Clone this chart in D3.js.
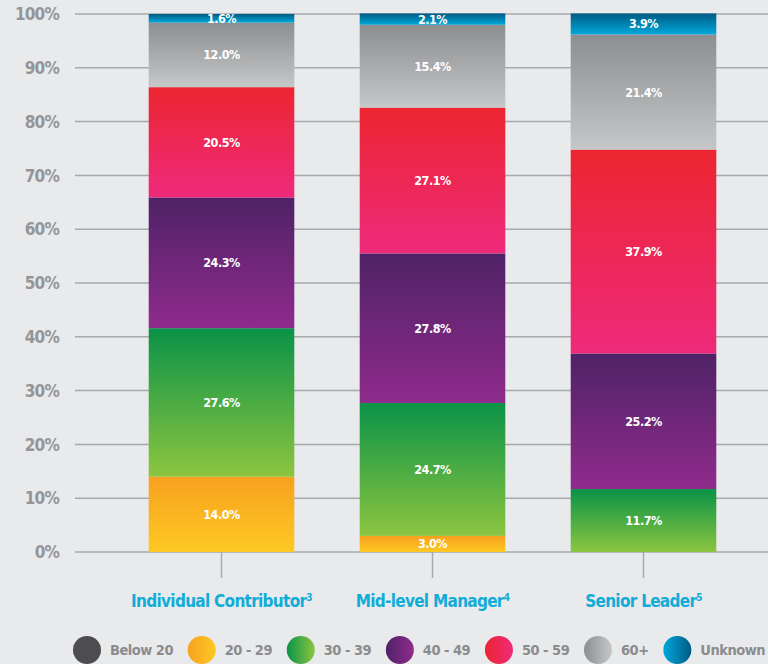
<!DOCTYPE html>
<html>
<head>
<meta charset="utf-8">
<script src="https://cdn.jsdelivr.net/npm/d3@7"></script>
<style>
  html, body { margin: 0; padding: 0; background: #e9eaec; }
  svg { display: block; }
  text { font-family: "DejaVu Sans Condensed", "DejaVu Sans", sans-serif; font-stretch: condensed; font-weight: bold; }
</style>
</head>
<body>
<div id="chart"></div>
<script>
var categories = ["Individual Contributor", "Mid-level Manager", "Senior Leader"];
var footnotes = ["3", "4", "5"];
var series = ["Below 20", "20 - 29", "30 - 39", "40 - 49", "50 - 59", "60+", "Unknown"];
var below20 = [0, 0, 0];
var age20s = [14.0, 3.0, 0];
var age30s = [27.6, 24.7, 11.7];
var age40s = [24.3, 27.8, 25.2];
var age50s = [20.5, 27.1, 37.9];
var age60plus = [12.0, 15.4, 21.4];
var unknown = [1.6, 2.1, 3.9];
var yTicks = [0, 10, 20, 30, 40, 50, 60, 70, 80, 90, 100];

// gradient stops per series (top / bottom)
var colorTop = ["#4d4d4f", "#f7a11f", "#0a9247", "#4f2266", "#ec2530", "#8d8e90", "#005b84"];
var colorBottom = ["#4d4d4f", "#fdc923", "#8cc540", "#8f2b8c", "#ee2a7b", "#c6c7c9", "#00a8da"];

var values = [below20, age20s, age30s, age40s, age50s, age60plus, unknown];

var width = 768, height = 664;

var svg = d3.select("#chart").append("svg")
    .attr("width", width)
    .attr("height", height);

var defs = svg.append("defs");
series.forEach(function(s, i) {
  var g = defs.append("linearGradient")
      .attr("id", "grad" + i)
      .attr("x1", 0).attr("y1", 0).attr("x2", 0).attr("y2", 1);
  g.append("stop").attr("offset", "0%").attr("stop-color", colorTop[i]);
  g.append("stop").attr("offset", "100%").attr("stop-color", colorBottom[i]);

  var lg = defs.append("linearGradient")
      .attr("id", "lgrad" + i)
      .attr("x1", 0).attr("y1", 0).attr("x2", 1).attr("y2", 0);
  var a = s === "Unknown" ? colorBottom[i] : colorTop[i];
  var b = s === "Unknown" ? colorTop[i] : colorBottom[i];
  lg.append("stop").attr("offset", "0%").attr("stop-color", a);
  lg.append("stop").attr("offset", "100%").attr("stop-color", b);
});

var x = d3.scaleBand()
    .domain(categories)
    .range([116, 749])
    .paddingInner(0.31)
    .paddingOuter(0.155);

var y = d3.scaleLinear()
    .domain([0, 100])
    .range([552, 14]);

// gridlines
svg.append("g")
  .selectAll("line")
  .data(yTicks)
  .enter().append("line")
    .attr("x1", 75)
    .attr("x2", width)
    .attr("y1", function(d) { return y(d); })
    .attr("y2", function(d) { return y(d); })
    .style("stroke", "#a7a9ac")
    .style("stroke-width", 1.5);

// y labels
svg.append("g")
  .selectAll("text")
  .data(yTicks)
  .enter().append("text")
    .attr("x", 59)
    .attr("y", function(d) { return y(d); })
    .attr("dy", "0.36em")
    .attr("text-anchor", "end")
    .style("font-size", "17px")
    .style("letter-spacing", "-0.8px")
    .style("fill", "#939598")
    .text(function(d) { return d + "%"; });

// stack
var table = categories.map(function(c, ci) {
  var row = { category: c };
  series.forEach(function(s, si) { row[s] = values[si][ci]; });
  return row;
});
var stacked = d3.stack().keys(series)(table);

var layers = svg.append("g")
  .selectAll("g")
  .data(stacked)
  .enter().append("g")
    .attr("fill", function(d, i) { return "url(#grad" + i + ")"; });

layers.selectAll("rect")
  .data(function(d) { return d.filter(function(p) { return p[1] - p[0] > 0; }); })
  .enter().append("rect")
    .attr("x", function(d) { return x(d.data.category); })
    .attr("width", x.bandwidth())
    .attr("y", function(d) { return y(d[1]); })
    .attr("height", function(d) { return y(d[0]) - y(d[1]); });

layers.selectAll("text")
  .data(function(d) { return d.filter(function(p) { return p[1] - p[0] > 0; }).map(function(p) { return { p: p, key: d.key }; }); })
  .enter().append("text")
    .attr("x", function(d) { return x(d.p.data.category) + x.bandwidth() / 2; })
    .attr("y", function(d) { return (y(d.p[0]) + y(d.p[1])) / 2; })
    .attr("dy", "0.36em")
    .attr("text-anchor", "middle")
    .style("font-size", "12.5px")
    .style("letter-spacing", "-0.5px")
    .style("fill", "#ffffff")
    .text(function(d) { return d.p.data[d.key].toFixed(1) + "%"; });

// x axis ticks
svg.append("g")
  .selectAll("line")
  .data(categories)
  .enter().append("line")
    .attr("x1", function(d) { return x(d) + x.bandwidth() / 2; })
    .attr("x2", function(d) { return x(d) + x.bandwidth() / 2; })
    .attr("y1", 552)
    .attr("y2", 578)
    .style("stroke", "#a7a9ac")
    .style("stroke-width", 1.5);

var xl = svg.append("g")
  .selectAll("text")
  .data(categories)
  .enter().append("text")
    .attr("x", function(d) { return x(d) + x.bandwidth() / 2; })
    .attr("y", 607)
    .attr("text-anchor", "middle")
    .style("font-size", "17px")
    .style("letter-spacing", "-0.7px")
    .style("fill", "#12acd8");
xl.append("tspan").text(function(d) { return d; });
xl.append("tspan")
    .attr("dy", "-6")
    .style("font-size", "10px")
    .text(function(d, i) { return footnotes[i]; });

// legend: spread items between the left circle edge and the right edge
var legend = svg.append("g").attr("transform", "translate(0,650)");
var items = legend.selectAll("g")
  .data(series)
  .enter().append("g");
items.append("circle")
    .attr("cx", 14)
    .attr("cy", 0)
    .attr("r", 14)
    .attr("fill", function(d, i) { return "url(#lgrad" + i + ")"; });
items.append("text")
    .attr("x", 37)
    .attr("y", 0)
    .attr("dy", "0.36em")
    .style("font-size", "14.5px")
    .style("letter-spacing", "-0.5px")
    .style("fill", "#8b8c8e")
    .text(function(d) { return d; });
var widths = items.nodes().map(function(n) { return 37 + n.querySelector("text").getComputedTextLength(); });
var totalW = d3.sum(widths);
var gap = (765 - 73 - totalW) / (series.length - 1);
var lx = 73;
items.attr("transform", function(d, i) {
  var t = "translate(" + lx + ",0)";
  lx += widths[i] + gap;
  return t;
});
</script>
</body>
</html>
